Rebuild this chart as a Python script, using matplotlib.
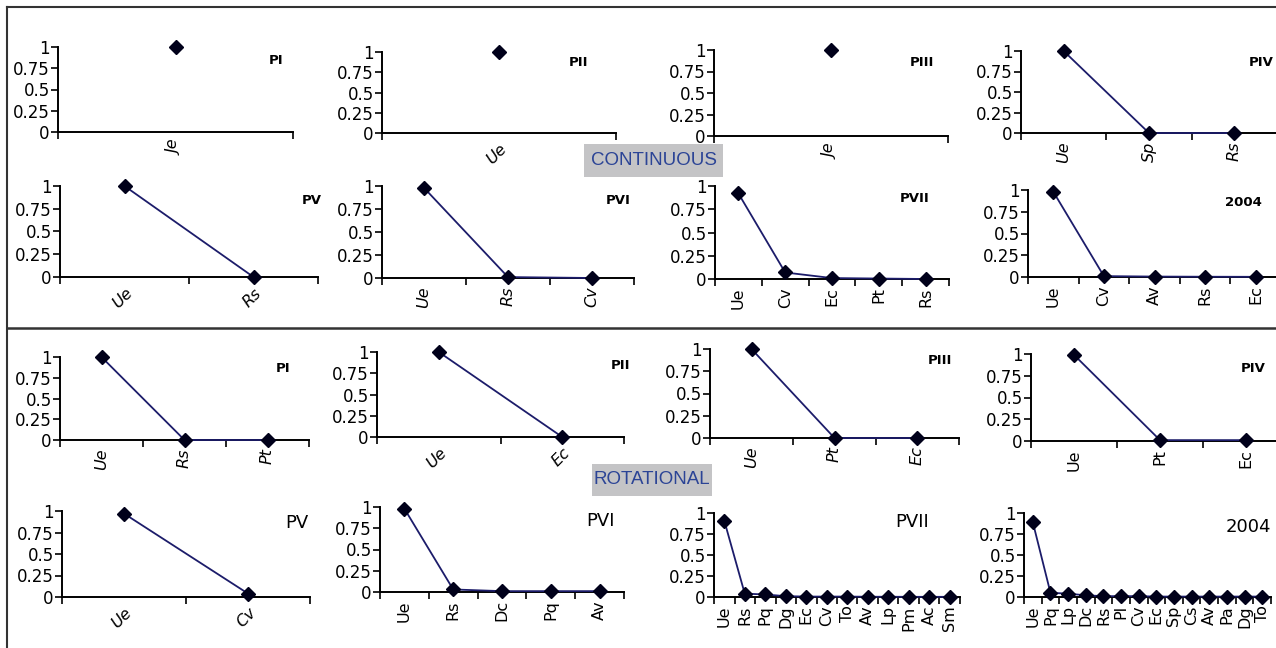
import matplotlib
matplotlib.use("Agg")
import matplotlib.pyplot as plt
from matplotlib.lines import Line2D
from matplotlib.patches import Rectangle
from matplotlib.ticker import FixedLocator, NullFormatter, FixedFormatter

plt.rcParams['font.family'] = ['Liberation Sans', 'DejaVu Sans']

W, H = 1276, 648

# ---------------- data ----------------
# CONTINUOUS
c_pi_cat = ["Je"];                c_pi_val = [1.0]
c_pii_cat = ["Ue"];               c_pii_val = [1.0]
c_piii_cat = ["Je"];              c_piii_val = [1.0]
c_piv_cat = ["Ue", "Sp", "Rs"];   c_piv_val = [1.0, 0.0, 0.0]
c_pv_cat = ["Ue", "Rs"];          c_pv_val = [1.0, 0.0]
c_pvi_cat = ["Ue", "Rs", "Cv"];   c_pvi_val = [0.98, 0.01, 0.0]
c_pvii_cat = ["Ue", "Cv", "Ec", "Pt", "Rs"]
c_pvii_val = [0.92, 0.07, 0.01, 0.005, 0.0]
c_2004_cat = ["Ue", "Cv", "Av", "Rs", "Ec"]
c_2004_val = [0.98, 0.01, 0.005, 0.003, 0.002]

# ROTATIONAL
r_pi_cat = ["Ue", "Rs", "Pt"];    r_pi_val = [1.0, 0.0, 0.0]
r_pii_cat = ["Ue", "Ec"];         r_pii_val = [1.0, 0.0]
r_piii_cat = ["Ue", "Pt", "Ec"];  r_piii_val = [1.0, 0.0, 0.0]
r_piv_cat = ["Ue", "Pt", "Ec"];   r_piv_val = [0.99, 0.01, 0.01]
r_pv_cat = ["Ue", "Cv"];          r_pv_val = [0.97, 0.04]
r_pvi_cat = ["Ue", "Rs", "Dc", "Pq", "Av"]
r_pvi_val = [0.98, 0.03, 0.01, 0.01, 0.01]
r_pvii_cat = ["Ue", "Rs", "Pq", "Dg", "Ec", "Cv", "To", "Av", "Lp", "Pm", "Ac", "Sm"]
r_pvii_val = [0.91, 0.04, 0.03, 0.01, 0.005, 0.005, 0.005, 0.003, 0.003, 0.002, 0.002, 0.002]
r_2004_cat = ["Ue", "Pq", "Lp", "Dc", "Rs", "Pl", "Cv", "Ec", "Sp", "Cs", "Av", "Pa", "Dg", "To"]
r_2004_val = [0.89, 0.05, 0.04, 0.02, 0.01, 0.01, 0.01, 0.005, 0.005, 0.005, 0.005, 0.005, 0.005, 0.005]

titles = ["PI", "PII", "PIII", "PIV", "PV", "PVI", "PVII", "2004"]
y_ticks = [0, 0.25, 0.5, 0.75, 1]
y_tick_labels = ["0", "0.25", "0.5", "0.75", "1"]

# ---------------- layout (pixels) ----------------
# (cats, vals, x_left, x_right, y_at_1, y_at_0, title_x, title_y, bold_title, rotation, italic)
panels = [
    (c_pi_cat, c_pi_val, 58, 293, 47, 132, 276, 60, True, 90, True),
    (c_pii_cat, c_pii_val, 382, 616, 52, 133, 578, 63, True, 45, True),
    (c_piii_cat, c_piii_val, 714, 948, 50, 136, 922, 62, True, 90, True),
    (c_piv_cat, c_piv_val, 1021, 1277, 51, 133, 1261, 62, True, 90, True),
    (c_pv_cat, c_pv_val, 60, 318, 186, 277, 312, 200, True, 45, True),
    (c_pvi_cat, c_pvi_val, 382, 634, 186, 278, 618, 201, True, 90, True),
    (c_pvii_cat, c_pvii_val, 715, 949, 186, 279, 915, 199, True, 90, False),
    (c_2004_cat, c_2004_val, 1028, 1281, 190, 277, 1243, 203, True, 90, False),
    (r_pi_cat, r_pi_val, 60, 309, 357, 440, 283, 368, True, 90, True),
    (r_pii_cat, r_pii_val, 377, 624, 352, 437, 620, 366, True, 45, True),
    (r_piii_cat, r_piii_val, 710, 959, 349, 438, 940, 361, True, 90, True),
    (r_piv_cat, r_piv_val, 1031, 1289, 354, 441, 1253, 368, True, 90, False),
    (r_pv_cat, r_pv_val, 62, 310, 511, 597, 297, 523, False, 45, True),
    (r_pvi_cat, r_pvi_val, 380, 624, 507, 592, 601, 521, False, 90, False),
    (r_pvii_cat, r_pvii_val, 714, 960, 513, 597, 912, 522, False, 90, False),
    (r_2004_cat, r_2004_val, 1024, 1271, 513, 597, 1248, 527, False, 90, False),
]
panel_titles = titles + titles

LINE = "#1c1c6a"
MARK = "#00001a"
WIDE = ['DejaVu Sans']

fig = plt.figure(figsize=(W / 100, H / 100), dpi=100)
fig.patch.set_facecolor("white")

for (cats, vals, xl, xr, y1, y0, tx, ty, bold, rot, ital), ttl in zip(panels, panel_titles):
    ax = fig.add_axes([xl / W, 1 - y0 / H, (xr - xl) / W, (y0 - y1) / H])
    n = len(cats)
    xs = [i + 0.5 for i in range(n)]
    if n > 1:
        ax.plot(xs, vals, color=LINE, lw=1.3, zorder=3, clip_on=False)
    ax.plot(xs, vals, linestyle="none", marker="D", ms=7, color=MARK,
            mec=MARK, zorder=4, clip_on=False)
    ax.set_xlim(0, n)
    ax.set_ylim(0, 1)
    for s in ["top", "right"]:
        ax.spines[s].set_visible(False)
    for s in ["left", "bottom"]:
        ax.spines[s].set_linewidth(1.4)
        ax.spines[s].set_color("black")
    ax.patch.set_alpha(0)
    ax.set_yticks(y_ticks)
    ax.set_yticklabels(y_tick_labels, fontsize=12, family=WIDE)
    ax.tick_params(axis="y", direction="out", length=5, width=1.2, pad=1)
    ax.xaxis.set_major_locator(FixedLocator(list(range(n + 1))))
    ax.xaxis.set_major_formatter(NullFormatter())
    ax.xaxis.set_minor_locator(FixedLocator(xs))
    ax.xaxis.set_minor_formatter(FixedFormatter(cats))
    ax.tick_params(axis="x", which="major", direction="out", length=5, width=1.2)
    ax.tick_params(axis="x", which="minor", length=0, pad=6)
    for lab in ax.xaxis.get_minorticklabels():
        lab.set_fontsize(11.5)
        lab.set_family(WIDE)
        lab.set_fontstyle("italic" if ital else "normal")
        if rot == 45:
            lab.set_rotation(45)
            lab.set_ha("right")
            lab.set_va("top")
            lab.set_rotation_mode("anchor")
        else:
            lab.set_rotation(90)
            lab.set_ha("center")
            lab.set_va("top")
    if bold:
        fig.text(tx / W, 1 - ty / H, ttl, fontsize=9.5, fontweight="bold",
                 family=WIDE, ha="center", va="center")
    else:
        fig.text(tx / W, 1 - ty / H, ttl, fontsize=13, family=WIDE,
                 ha="center", va="center")

# borders and separator
bc = "#333333"
fig.add_artist(Line2D([7 / W, 7 / W], [1 - 7 / H, 0], color=bc, lw=1.5,
                      transform=fig.transFigure))
fig.add_artist(Line2D([7 / W, 1], [1 - 7 / H, 1 - 7 / H], color=bc, lw=1.5,
                      transform=fig.transFigure))
fig.add_artist(Line2D([7 / W, 1], [1 - 328 / H, 1 - 328 / H], color=bc, lw=1.8,
                      transform=fig.transFigure))

# section labels
BOXC = "#c4c4c6"
TXTC = "#2b4496"
for (bx0, by0, bx1, by1, txt) in [(584, 144, 723, 177, "CONTINUOUS"),
                                   (592, 464, 712, 496, "ROTATIONAL")]:
    fig.add_artist(Rectangle((bx0 / W, 1 - by1 / H), (bx1 - bx0) / W, (by1 - by0) / H,
                             facecolor=BOXC, edgecolor="none",
                             transform=fig.transFigure, zorder=5))
    fig.text((bx0 + bx1) / 2 / W, 1 - (by0 + by1) / 2 / H, txt, fontsize=13.5,
             color=TXTC, ha="center", va="center", zorder=6)

fig.savefig("out.png", dpi=100)
